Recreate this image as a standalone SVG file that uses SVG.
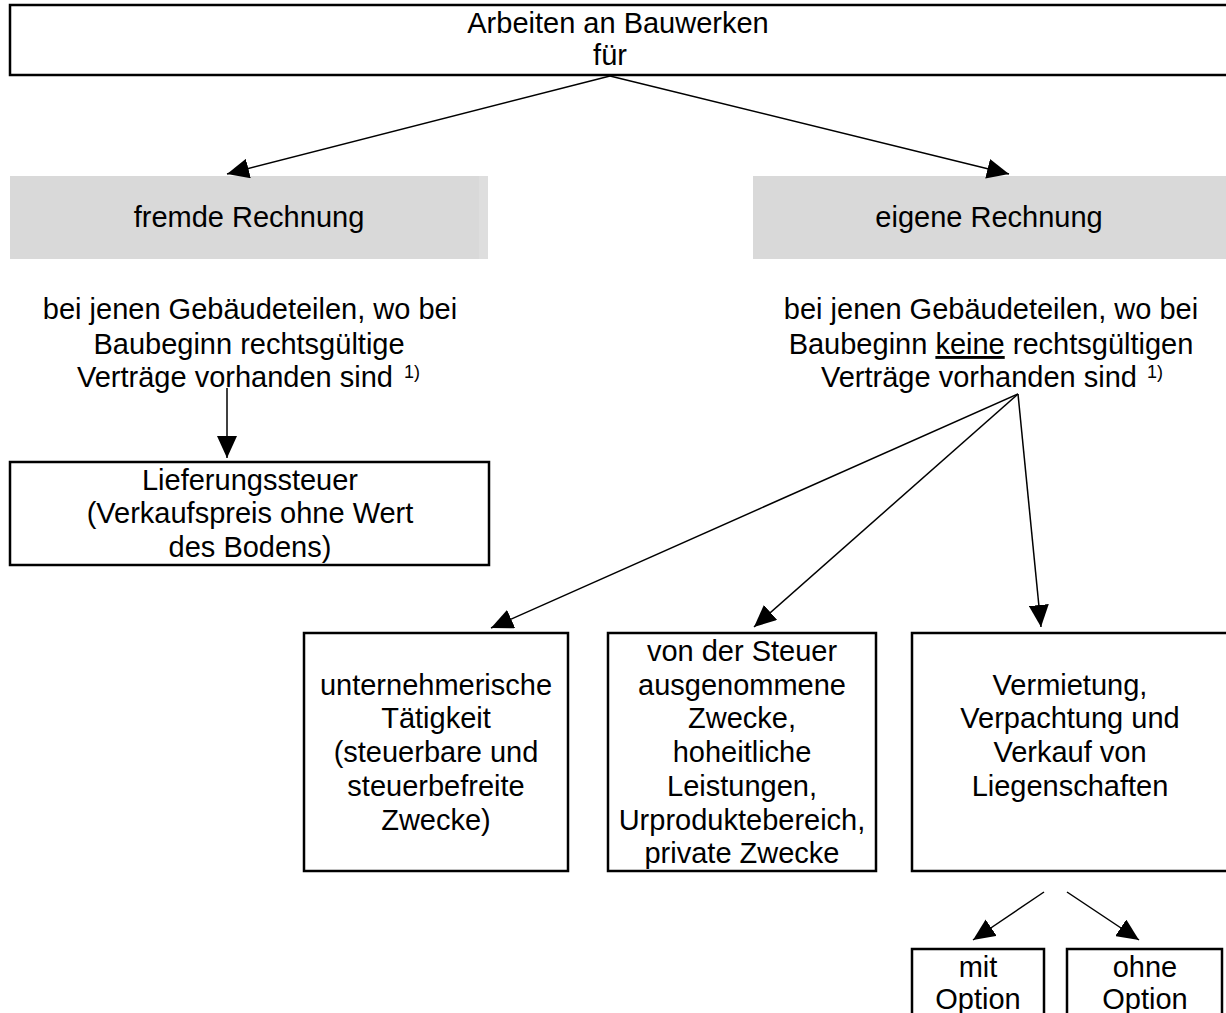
<svg xmlns="http://www.w3.org/2000/svg" width="1226" height="1013" viewBox="0 0 1226 1013">
<style>
text{font-family:"Liberation Sans",Arial,sans-serif;font-size:29px;fill:#000}
.c{text-anchor:middle}
.sup{font-size:18px}
.box{fill:#fff;stroke:#000;stroke-width:2.5}
.gray{fill:#d9d9d9}
.con line{stroke:#000;stroke-width:1.5;marker-end:url(#ah)}
</style>
<defs>
<marker id="ah" viewBox="0 0 22 20" refX="22" refY="10" markerWidth="22" markerHeight="20" markerUnits="userSpaceOnUse" orient="auto">
<path d="M0,0 L22,10 L0,20 z" fill="#000"/>
</marker>
</defs>
<rect width="1226" height="1013" fill="#fff"/>
<g id="top">
<rect class="box" x="10" y="5" width="1230" height="70"/>
<text class="c" x="618" y="33">Arbeiten an Bauwerken</text>
<text class="c" x="610" y="65">für</text>
</g>
<g id="fremde">
<rect class="gray" x="10" y="176" width="469" height="83"/>
<rect x="479" y="176" width="9" height="83" fill="#dedede"/>
<text class="c" x="249" y="227">fremde Rechnung</text>
</g>
<g id="eigene">
<rect class="gray" x="753" y="176" width="480" height="83"/>
<text class="c" x="989" y="227">eigene Rechnung</text>
</g>
<g id="mitvertrag">
<text class="c" x="250" y="319">bei jenen Gebäudeteilen, wo bei</text>
<text class="c" x="249" y="354">Baubeginn rechtsgültige</text>
<text x="77" y="387">Verträge vorhanden sind</text>
<text class="sup" x="404" y="378">1)</text>
</g>
<g id="ohnevertrag">
<text class="c" x="991" y="319">bei jenen Gebäudeteilen, wo bei</text>
<text class="c" x="991" y="354">Baubeginn <tspan text-decoration="underline">keine</tspan> rechtsgültigen</text>
<text x="821" y="387">Verträge vorhanden sind</text>
<text class="sup" x="1147" y="378">1)</text>
</g>
<g id="lieferung">
<rect class="box" x="10" y="462" width="479" height="103"/>
<text class="c" x="250" y="490">Lieferungssteuer</text>
<text class="c" x="250" y="523">(Verkaufspreis ohne Wert</text>
<text class="c" x="250" y="557">des Bodens)</text>
</g>
<g id="unternehmerisch">
<rect class="box" x="304" y="633" width="264" height="238"/>
<text class="c" x="436" y="695">unternehmerische</text>
<text class="c" x="436" y="728">Tätigkeit</text>
<text class="c" x="436" y="762">(steuerbare und</text>
<text class="c" x="436" y="796">steuerbefreite</text>
<text class="c" x="436" y="830">Zwecke)</text>
</g>
<g id="ausgenommen">
<rect class="box" x="608" y="633" width="268" height="238"/>
<text class="c" x="742" y="661">von der Steuer</text>
<text class="c" x="742" y="695">ausgenommene</text>
<text class="c" x="742" y="728">Zwecke,</text>
<text class="c" x="742" y="762">hoheitliche</text>
<text class="c" x="742" y="796">Leistungen,</text>
<text class="c" x="742" y="830">Urproduktebereich,</text>
<text class="c" x="742" y="863">private Zwecke</text>
</g>
<g id="vermietung">
<rect class="box" x="912" y="633" width="330" height="238"/>
<text class="c" x="1070" y="695">Vermietung,</text>
<text class="c" x="1070" y="728">Verpachtung und</text>
<text class="c" x="1070" y="762">Verkauf von</text>
<text class="c" x="1070" y="796">Liegenschaften</text>
</g>
<g id="mitoption">
<rect class="box" x="912" y="949" width="132" height="80"/>
<text class="c" x="978" y="977">mit</text>
<text class="c" x="978" y="1009">Option</text>
</g>
<g id="ohneoption">
<rect class="box" x="1067" y="949" width="155" height="80"/>
<text class="c" x="1145" y="977">ohne</text>
<text class="c" x="1145" y="1009">Option</text>
</g>
<g id="connectors" class="con">
<line x1="610" y1="76" x2="227" y2="174"/>
<line x1="610" y1="76" x2="1009" y2="174"/>
<line x1="227" y1="388" x2="227" y2="458"/>
<line x1="1018" y1="394" x2="491" y2="628"/>
<line x1="1018" y1="394" x2="754" y2="627"/>
<line x1="1018" y1="394" x2="1041" y2="627"/>
<line x1="1044" y1="892" x2="973" y2="940"/>
<line x1="1067" y1="892" x2="1139" y2="940"/>
</g>
</svg>
